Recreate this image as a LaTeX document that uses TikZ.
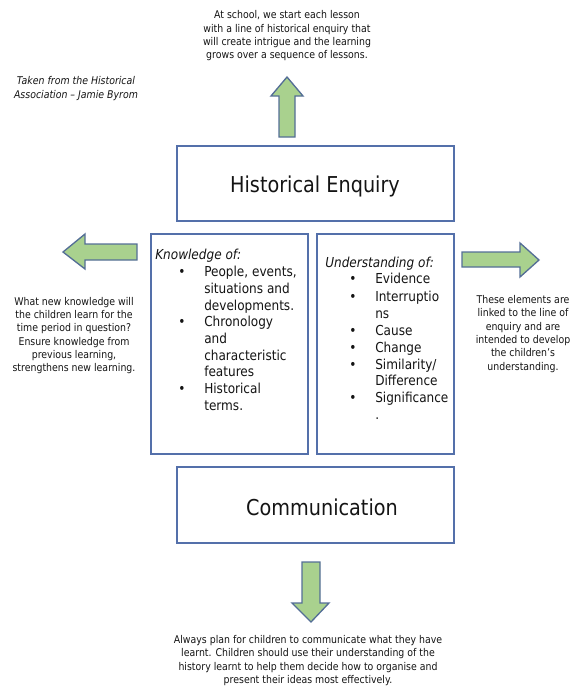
\documentclass[tikz,border=0pt]{standalone}
\usepackage{fontspec}
\setmainfont{DejaVu Sans}[FakeStretch=0.88]
\definecolor{boxblue}{RGB}{84,112,170}
\definecolor{arrowfill}{RGB}{169,209,142}
\definecolor{arrowline}{RGB}{84,110,150}
\definecolor{txt}{RGB}{20,20,20}
\begin{document}
\begin{tikzpicture}[x=0.75pt,y=-0.75pt,
  frame/.style={draw=boxblue,line width=1.3pt},
  blockarrow/.style={draw=arrowline,fill=arrowfill,line width=1pt,line join=miter},
  small/.style={font=\fontsize{8}{10}\selectfont,align=center,text=txt,inner sep=0},
  big/.style={font=\fontsize{16.4}{19}\selectfont,text=txt,inner sep=0},
  ln/.style={anchor=base west,inner sep=0,font=\fontsize{10.3}{12.5}\selectfont,text=txt},
  hd/.style={anchor=base west,inner sep=0,font=\fontsize{10.3}{12.5}\selectfont\itshape,text=txt}]
\useasboundingbox (0,0) rectangle (577,689);
% boxes
\draw[frame] (177,146) rectangle (454,221);
\node[big] (he) at (315,186) {Historical Enquiry};
\draw[frame] (151,234) rectangle (308,454);
\draw[frame] (317,234) rectangle (454,454);
\draw[frame] (177,467) rectangle (454,543);
\node[big] (com) at (322,507) {Communication};
% knowledge
\node[hd] (kh) at (155,259) {Knowledge of:};
\node[ln] at (178,276) {•};
\node[ln] (k1a) at (204,276) {People, events,};
\node[ln] (k1b) at (204,293) {situations and};
\node[ln] (k1c) at (204,310) {developments.};
\node[ln] at (178,326) {•};
\node[ln] (k2a) at (204,326) {Chronology};
\node[ln] (k2b) at (204,343) {and};
\node[ln] (k2c) at (204,360) {characteristic};
\node[ln] (k2d) at (204,376) {features};
\node[ln] at (178,393) {•};
\node[ln] (k3a) at (204,393) {Historical};
\node[ln] (k3b) at (204,410) {terms.};
% understanding
\node[hd] (uh) at (325,267) {Understanding of:};
\node[ln] at (349,283) {•};
\node[ln] (u1) at (375,283) {Evidence};
\node[ln] at (349,301) {•};
\node[ln] (u2a) at (375,301) {Interruptio};
\node[ln] (u2b) at (375,318) {ns};
\node[ln] at (349,335) {•};
\node[ln] (u3) at (375,335) {Cause};
\node[ln] at (349,352) {•};
\node[ln] (u4) at (375,352) {Change};
\node[ln] at (349,369) {•};
\node[ln] (u5a) at (375,369) {Similarity/};
\node[ln] (u5b) at (375,385) {Difference};
\node[ln] at (349,402) {•};
\node[ln] (u6a) at (375,402) {Significance};
\node[ln] (u6b) at (375,419) {.};
% arrows
\draw[blockarrow] (279,137) -- (279,96) -- (271,96) -- (287,77) -- (303,96) -- (295,96) -- (295,137) -- cycle;
\draw[blockarrow] (137,244) -- (85,244) -- (85,234) -- (63,252) -- (85,269) -- (85,260) -- (137,260) -- cycle;
\draw[blockarrow] (462,252) -- (520,252) -- (520,243) -- (539,260) -- (520,277) -- (520,267) -- (462,267) -- cycle;
\draw[blockarrow] (302,562) -- (320,562) -- (320,603) -- (329,603) -- (311,622) -- (292,603) -- (302,603) -- cycle;
% texts
\node[small] (top) at (287,36) {At school, we start each lesson\\with a line of historical enquiry that\\will create intrigue and the learning\\grows over a sequence of lessons.};
\node[small,font=\fontsize{8}{10}\selectfont\itshape] (src) at (76,88.5) {Taken from the Historical\\Association – Jamie Byrom};
\node[small] (lt) at (74,335.5) {What new knowledge will\\the children learn for the\\time period in question?\\Ensure knowledge from\\previous learning,\\strengthens new learning.};
\node[small] (rt) at (523,334) {These elements are\\linked to the line of\\enquiry and are\\intended to develop\\the children’s\\understanding.};
\node[small] (bt) at (308,660.5) {Always plan for children to communicate what they have\\learnt. Children should use their understanding of the\\history learnt to help them decide how to organise and\\present their ideas most effectively.};
\end{tikzpicture}
\end{document}
